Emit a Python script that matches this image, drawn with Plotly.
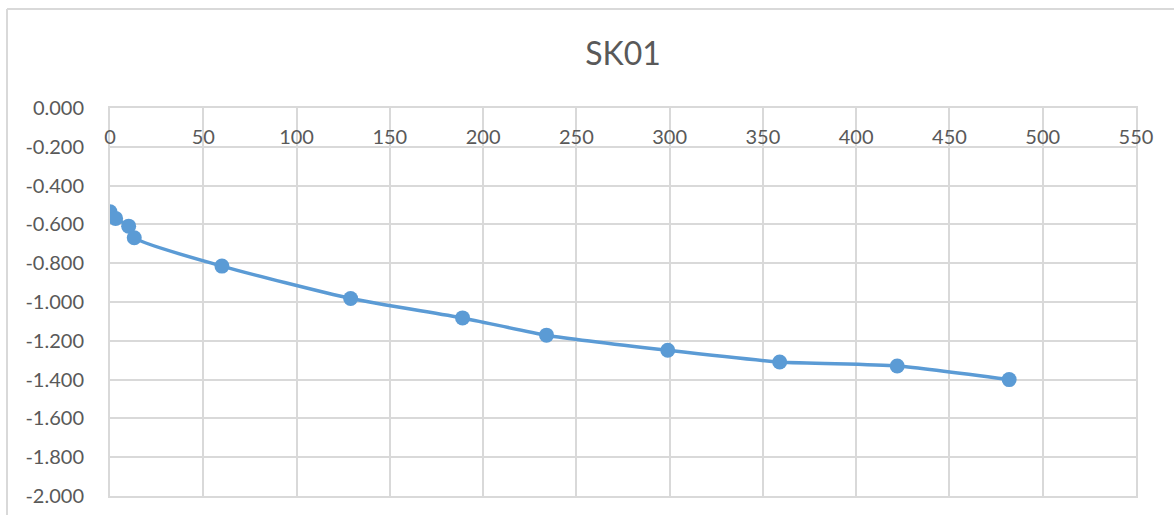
import plotly.graph_objects as go

# Data
x_vals = [0, 3, 10, 13, 60, 129, 189, 234, 299, 359, 422, 482]
y_vals = [-0.535, -0.569, -0.609, -0.669, -0.815, -0.982, -1.082, -1.171, -1.249, -1.309, -1.330, -1.400]

x_ticks = [0, 50, 100, 150, 200, 250, 300, 350, 400, 450, 500, 550]
x_tick_labels = ["0", "50", "100", "150", "200", "250", "300", "350", "400", "450", "500", "550"]
y_ticks = [0, -0.2, -0.4, -0.6, -0.8, -1.0, -1.2, -1.4, -1.6, -1.8, -2.0]
y_tick_labels = ["0.000", "-0.200", "-0.400", "-0.600", "-0.800", "-1.000",
                 "-1.200", "-1.400", "-1.600", "-1.800", "-2.000"]

W, H = 1174, 515
ML, MR, MT, MB = 110, 38, 108, 19
BLUE = "#5B9BD5"
GRID = "#D9D9D9"
TXT = "#595959"
FONT = "Lato, Open Sans, sans-serif"

fig = go.Figure()
fig.add_trace(go.Scatter(
    x=x_vals, y=y_vals, mode="lines+markers",
    line=dict(color=BLUE, width=3.5, shape="spline", smoothing=0.6),
    marker=dict(color=BLUE, size=15),
    showlegend=False,
))

pw = W - ML - MR
ph = H - MT - MB
def px_to_paper_x(px):
    return (px - ML) / pw
def px_to_paper_y(py):
    return 1 + (MT - py) / ph

# outer chart border (left and top visible)
fig.add_shape(type="line", xref="paper", yref="paper",
              x0=px_to_paper_x(7), x1=px_to_paper_x(W + 5),
              y0=px_to_paper_y(9), y1=px_to_paper_y(9),
              line=dict(color=GRID, width=2))
fig.add_shape(type="line", xref="paper", yref="paper",
              x0=px_to_paper_x(7), x1=px_to_paper_x(7),
              y0=px_to_paper_y(9), y1=px_to_paper_y(H + 5),
              line=dict(color=GRID, width=2))

fig.update_layout(
    width=W, height=H,
    margin=dict(l=ML, r=MR, t=MT, b=MB),
    paper_bgcolor="white", plot_bgcolor="white",
    title=dict(text="SK01", x=0.5, xref="paper", xanchor="center",
               y=1 - 54 / H, yanchor="middle", yref="container",
               font=dict(family=FONT, size=32, color=TXT)),
    font=dict(family=FONT, color=TXT),
    xaxis=dict(range=[0, 550], side="top", tickvals=x_ticks, ticktext=x_tick_labels,
               ticklabelposition="inside", ticklabelstandoff=23, ticklabeloverflow="allow",
               showgrid=True, gridcolor=GRID, gridwidth=2, zeroline=False,
               showline=True, linecolor=GRID, linewidth=2, mirror=True,
               tickfont=dict(size=20, color=TXT), ticks="", automargin=False),
    yaxis=dict(range=[-2, 0], tickvals=y_ticks, ticktext=y_tick_labels,
               showgrid=True, gridcolor=GRID, gridwidth=2, zeroline=False,
               showline=True, linecolor=GRID, linewidth=2, mirror=True,
               ticklabelstandoff=20, ticklabeloverflow="allow",
               tickfont=dict(size=20, color=TXT), ticks="", automargin=False),
)

fig.write_html("out.html", config={"displayModeBar": False},
               post_script="document.body.style.margin='0px';")
